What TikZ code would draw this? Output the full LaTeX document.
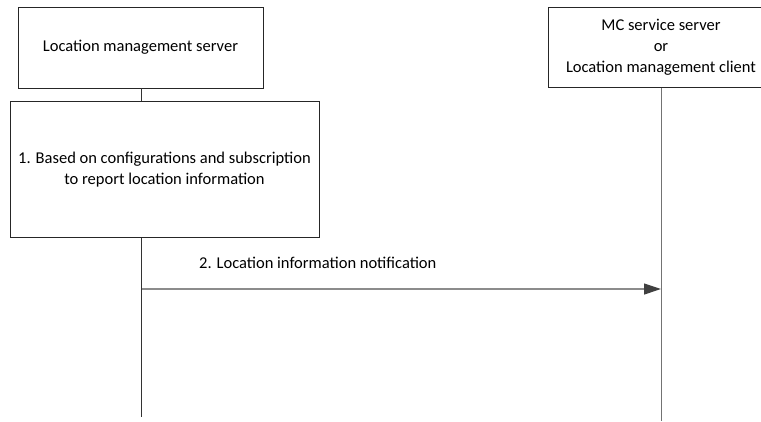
\documentclass[tikz,border=0pt]{standalone}
\usepackage{fontspec}
\setmainfont{Carlito}
\usetikzlibrary{arrows.meta}
\begin{document}
\begin{tikzpicture}[x=1pt,y=-1pt,
  entity/.style={draw=black!85, line width=0.9pt, fill=white, align=center, inner sep=0pt, font=\fontsize{16.5}{21}\selectfont},
  lifeline/.style={line width=0.9pt, draw=black!80},
  msg/.style={line width=1.2pt, draw=black!45, -{Triangle[length=17pt,width=11pt,fill=black!75,color=black!75]}},
  lbl/.style={font=\fontsize{16.5}{19}\selectfont, anchor=west, inner sep=0pt}]
\useasboundingbox (0,0) rectangle (761,421);
\begin{scope}
\clip (0,0) rectangle (761,421);
\node[entity, minimum width=245pt, minimum height=81pt] (lms) at (140.5,47.5) {Location management server};
\node[entity, minimum width=226pt, minimum height=80pt] (mcs) at (661,47.5) {MC service server\\or\\Location management client};
\coordinate (lbot) at (141.5,417);
\coordinate (rbot) at (661,421);
\draw[lifeline] (lms.south -| lbot) -- (lbot);
\draw[lifeline, draw=black!55] (mcs.south) -- (rbot);
\node[entity, minimum width=309pt, minimum height=136pt] (step1) at (164.5,169.5) {1. Based on configurations and subscription\\to report location information};
\coordinate (a1) at (141.5,289);
\coordinate (a2) at (661,289);
\draw[msg] (a1) -- (a2);
\node[lbl] (l2) at (199,263) {2. Location information notification};
\end{scope}
\end{tikzpicture}
\end{document}
